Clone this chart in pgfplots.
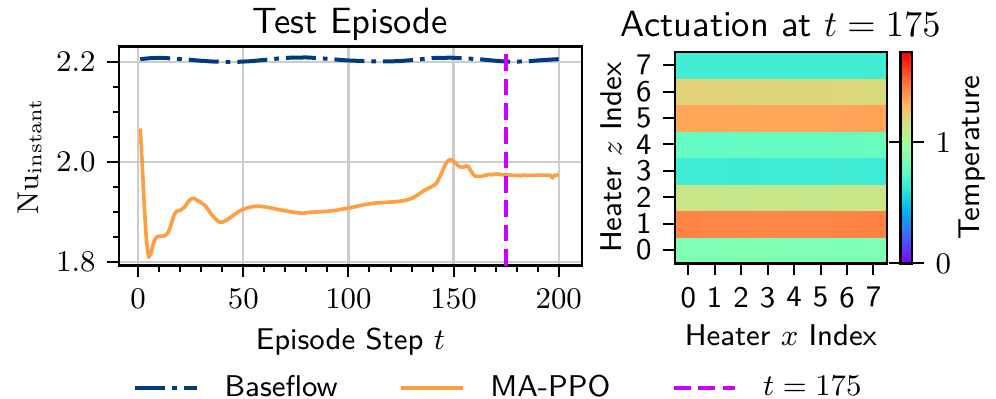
\documentclass[border=0pt]{standalone}
\usepackage{pgfplots}
\pgfplotsset{compat=1.18}
\definecolor{baseblue}{RGB}{0,59,128}
\definecolor{ppoorange}{RGB}{255,159,67}
\definecolor{tmagenta}{RGB}{204,0,255}
\definecolor{gridgray}{RGB}{204,204,204}

% matplotlib "rainbow", sampled every 1/16
\pgfplotsset{
  colormap={mplrainbow}{
    rgb255=(128,0,255) rgb255=(96,50,254) rgb255=(64,98,250) rgb255=(32,142,244)
    rgb255=(0,180,236) rgb255=(32,212,225) rgb255=(64,236,212) rgb255=(96,250,197)
    rgb255=(128,255,180) rgb255=(159,250,162) rgb255=(191,236,142) rgb255=(223,212,120)
    rgb255=(255,180,98) rgb255=(255,142,74) rgb255=(255,98,50) rgb255=(255,50,25)
    rgb255=(255,0,0)
  },
  mystyle/.style={
    scale only axis,
    axis line style={line width=0.7pt},
    tick align=outside,
    major tick length=3.5pt,
    minor tick length=1.8pt,
    tick style={black, line width=0.6pt},
    tick label style={font=\fontsize{9}{10}\selectfont},
    label style={font=\fontsize{9}{11}\sffamily},
    title style={font=\fontsize{10.95}{13}\sffamily},
  },
}

\pgfplotstableread{
t y
1 2.067
2 1.990
3 1.905
4 1.840
5 1.809
6 1.815
7 1.833
8 1.845
9 1.850
10 1.851
12 1.851
13 1.853
14 1.857
15 1.866
16 1.879
17 1.893
18 1.900
19 1.902
20 1.903
21 1.906
22 1.909
23 1.915
24 1.921
25 1.925
26 1.927
27 1.926
28 1.923
29 1.921
30 1.918
31 1.915
32 1.912
33 1.906
34 1.900
35 1.894
36 1.889
37 1.885
38 1.881
39 1.879
40 1.879
41 1.881
42 1.883
43 1.886
44 1.889
45 1.892
46 1.895
47 1.898
48 1.901
49 1.903
50 1.905
52 1.908
54 1.910
56 1.911
58 1.911
60 1.910
63 1.908
66 1.905
70 1.902
74 1.899
78 1.897
82 1.899
86 1.900
90 1.901
94 1.903
98 1.906
102 1.909
106 1.913
110 1.916
114 1.918
118 1.919
122 1.920
126 1.922
129 1.925
131 1.929
133 1.934
135 1.940
137 1.945
139 1.949
141 1.954
142 1.958
143 1.966
144 1.975
145 1.985
146 1.994
147 2.001
148 2.004
149 2.004
150 2.001
151 1.997
152 1.993
153 1.990
154 1.989
155 1.990
156 1.992
157 1.991
158 1.983
159 1.977
160 1.972
161 1.971
163 1.971
164 1.972
165 1.973
166 1.974
167 1.975
168 1.974
169 1.975
170 1.976
172 1.975
174 1.974
176 1.974
178 1.973
180 1.973
182 1.972
183 1.9735
185 1.973
188 1.973
191 1.9735
194 1.9735
196 1.973
197 1.968
198 1.973
200 1.974
}\ppo

\pgfplotstableread{
t y
1 2.2060
6 2.2080
11 2.2087
17 2.2070
23 2.2054
29 2.2030
35 2.2013
42 2.2005
48 2.2007
54 2.2020
60 2.2045
66 2.2070
72 2.2088
80 2.2094
86 2.2080
92 2.2060
99 2.2035
105 2.2025
112 2.2015
118 2.2013
124 2.2020
130 2.2040
136 2.2065
142 2.2087
149 2.2088
155 2.2075
162 2.2060
168 2.2035
174 2.2013
180 2.2010
186 2.2020
192 2.2040
200 2.2060
}\base

\pgfplotstableread{
x y c
0 0 0.870
1 0 0.870
2 0 0.875
3 0 0.875
4 0 0.870
5 0 0.870
6 0 0.865
7 0 0.870
0 1 1.445
1 1 1.440
2 1 1.440
3 1 1.435
4 1 1.440
5 1 1.440
6 1 1.445
7 1 1.450
0 2 1.125
1 2 1.120
2 2 1.115
3 2 1.120
4 2 1.120
5 2 1.115
6 2 1.120
7 2 1.125
0 3 0.650
1 3 0.650
2 3 0.645
3 3 0.650
4 3 0.650
5 3 0.650
6 3 0.655
7 3 0.650
0 4 0.780
1 4 0.775
2 4 0.780
3 4 0.780
4 4 0.780
5 4 0.785
6 4 0.790
7 4 0.800
0 5 1.350
1 5 1.350
2 5 1.345
3 5 1.350
4 5 1.350
5 5 1.350
6 5 1.355
7 5 1.360
0 6 1.210
1 6 1.205
2 6 1.200
3 6 1.195
4 6 1.190
5 6 1.190
6 6 1.185
7 6 1.180
0 7 0.660
1 7 0.660
2 7 0.660
3 7 0.660
4 7 0.660
5 7 0.660
6 7 0.660
7 7 0.655
}\heat

\begin{document}
\begin{tikzpicture}
\useasboundingbox (0pt,0pt) rectangle (298.8pt,-119.7pt);

% left: Nu over the episode
\begin{axis}[
  mystyle,
  at={(35.7pt,-14.0pt)}, anchor=north west,
  width=138.8pt, height=65.7pt,
  xmin=-9.1, xmax=210.9, ymin=1.792, ymax=2.231,
  xtick={0,50,100,150,200}, minor x tick num=4,
  ytick={1.8,2.0,2.2}, minor y tick num=3,
  xtick pos=bottom, ytick pos=left,
  yticklabel style={/pgf/number format/.cd, fixed, fixed zerofill, precision=1},
  grid=major, major grid style={gridgray, line width=0.7pt},
  title={Test Episode},
  title style={at={(0.5,1)}, anchor=base, yshift=-2pt},
  xlabel={Episode Step $t$},
  xlabel style={at={(axis description cs:0.5,0)}, anchor=base, yshift=-25pt},
  ylabel={$\mathrm{Nu}_{\mathrm{instant}}$},
  ylabel style={at={(axis description cs:-0.175,0.5)}, anchor=base},
  legend columns=3,
  legend style={at={(axis description cs:0.818,-0.56)}, anchor=center,
    draw=none, fill=none, font=\fontsize{9}{11}\sffamily,
    nodes={inner sep=0pt},
    /tikz/every odd column/.append style={column sep=7.8pt},
    /tikz/every even column/.append style={column sep=18.5pt}},
  legend image code/.code={\draw[#1] (0pt,0pt) -- (18.4pt,0pt);},
]
\addplot[baseblue, line width=1.2pt, dash pattern=on 9pt off 2.1pt on 1.4pt off 2.1pt]
  table[x=t, y=y] {\base};
\addlegendentry{Baseflow}
\addplot[ppoorange, line width=1.1pt, line join=round] table[x=t, y=y] {\ppo};
\addlegendentry{MA-PPO}
\addplot[tmagenta, line width=1.1pt, dash pattern=on 5pt off 2.3pt]
  coordinates {(175,1.792) (175,2.231)};
\addlegendentry{$t=175$}
\end{axis}

% right: heater actuation map
\begin{axis}[
  mystyle,
  at={(202.5pt,-15.6pt)}, anchor=north west,
  width=63.5pt, height=63.4pt,
  xmin=-0.5, xmax=7.5, ymin=-0.5, ymax=7.5,
  xtick={0,...,7}, ytick={0,...,7},
  xticklabels={0,1,2,3,4,5,6,7}, yticklabels={0,1,2,3,4,5,6,7},
  xtick pos=bottom, ytick pos=left,
  tick label style={font=\fontsize{9}{10}\sffamily},
  title={Actuation at $t=175$},
  title style={at={(0.5,1)}, anchor=base, yshift=-1.5pt},
  xlabel={Heater $x$ Index},
  xlabel style={at={(axis description cs:0.5,0)}, anchor=base, yshift=-24.5pt},
  ylabel={Heater $z$ Index},
  ylabel style={at={(axis description cs:-0.252,0.5)}, anchor=base},
  colormap name=mplrainbow,
  point meta min=0, point meta max=1.748,
  axis on top,
  colorbar,
  colorbar style={
    at={(parent axis.north east)}, anchor=north west, xshift=-4.4pt,
    scale only axis, width=3.5pt,
    axis line style={line width=0.7pt},
    ytick={0,1}, yticklabel pos=right,
    major tick length=3.5pt, tick align=outside,
    tick style={black, line width=0.6pt},
    yticklabel style={font=\fontsize{9}{10}\selectfont},
    ylabel={Temperature},
    ylabel style={at={(axis description cs:6.77,0.5)}, anchor=base,
      font=\fontsize{9}{11}\sffamily},
  },
]
\addplot[matrix plot*, mesh/cols=8, point meta=explicit] table[x=x, y=y, meta=c] {\heat};
\end{axis}
\end{tikzpicture}
\end{document}
